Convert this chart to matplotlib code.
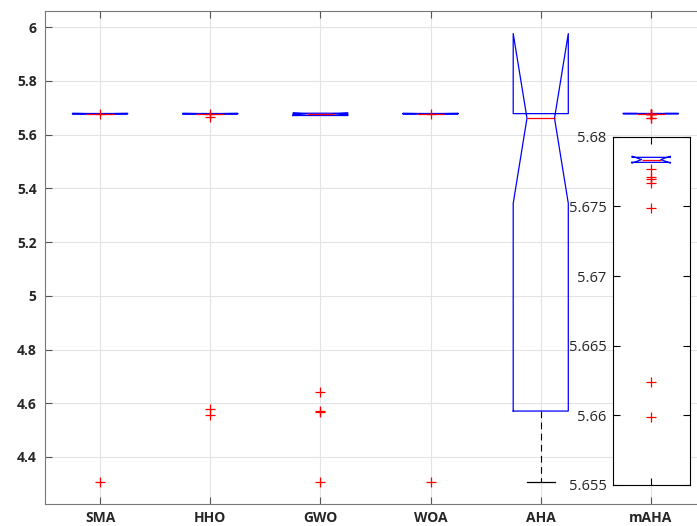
import matplotlib
matplotlib.use("Agg")
import matplotlib.pyplot as plt

# box statistics
names = ["SMA", "HHO", "GWO", "WOA", "AHA", "mAHA"]
q1 = [5.6777, 5.6777, 5.6710, 5.6777, 4.571, 5.67816]
med = [5.6781, 5.6781, 5.6772, 5.6781, 5.661, 5.67836]
q3 = [5.6785, 5.6785, 5.6795, 5.6785, 5.678, 5.67852]
ci_lo = [5.6772, 5.6772, 5.6740, 5.6772, 5.344, 5.67810]
ci_hi = [5.6790, 5.6790, 5.6800, 5.6790, 5.976, 5.67860]
whis_lo = [5.6777, 5.6777, 5.6710, 5.6777, 4.308, 5.67816]
whis_hi = [5.6785, 5.6785, 5.6795, 5.6785, 5.678, 5.67852]
outliers = [
    [5.6760, 4.308],
    [5.6760, 5.6670, 4.577, 4.556],
    [4.641, 4.570, 4.566, 4.308],
    [5.6780, 4.308],
    [],
    [5.67768, 5.67713, 5.67696, 5.6767, 5.67486, 5.66237, 5.65988],
]
main_ticks = [4.4, 4.6, 4.8, 5.0, 5.2, 5.4, 5.6, 5.8, 6.0]
main_ticklabels = ["4.4", "4.6", "4.8", "5", "5.2", "5.4", "5.6", "5.8", "6"]
inset_ticks = [5.655, 5.66, 5.665, 5.67, 5.675, 5.68]
inset_ticklabels = ["5.655", "5.66", "5.665", "5.67", "5.675", "5.68"]

plt.rcParams["font.family"] = ["Open Sans", "DejaVu Sans"]
txt = "#262626"

stats = []
for i in range(len(names)):
    stats.append(dict(med=med[i], q1=q1[i], q3=q3[i], cilo=ci_lo[i], cihi=ci_hi[i],
                      whislo=whis_lo[i], whishi=whis_hi[i], fliers=outliers[i], label=names[i]))

style = dict(
    shownotches=True, widths=0.5,
    boxprops=dict(color="blue", linewidth=0.9),
    medianprops=dict(color="red", linewidth=0.9),
    whiskerprops=dict(color="black", linestyle=(0, (6, 4)), linewidth=0.8),
    capprops=dict(color="black", linewidth=0.9),
    flierprops=dict(marker="+", markeredgecolor="red", markersize=7, markeredgewidth=0.9, linestyle="none"),
)


def hide_empty_caps(parts, st):
    # caps only where the whisker actually leaves the box
    for j, s in enumerate(st):
        lo_cap, hi_cap = parts["caps"][2 * j], parts["caps"][2 * j + 1]
        lo_w, hi_w = parts["whiskers"][2 * j], parts["whiskers"][2 * j + 1]
        if s["whislo"] >= s["q1"]:
            lo_cap.set_visible(False)
            lo_w.set_visible(False)
        if s["whishi"] <= s["q3"]:
            hi_cap.set_visible(False)
            hi_w.set_visible(False)


fig = plt.figure(figsize=(6.97, 5.26), dpi=100)
ax = fig.add_axes([45 / 697, 1 - 504 / 526, 661 / 697, 493 / 526])
parts = ax.bxp(stats, positions=range(1, 7), **style)
hide_empty_caps(parts, stats)
ax.set_xlim(0.5, 6.5)
ax.set_ylim(4.225, 6.06)
ax.set_yticks(main_ticks)
ax.set_yticklabels(main_ticklabels, fontweight="bold")
ax.set_xticks(range(1, 7))
ax.set_xticklabels(names, fontweight="bold")
ax.grid(True, color="#e3e3e3", linewidth=0.8)
ax.set_axisbelow(True)
ax.tick_params(direction="in", top=True, right=True, length=5, color="#555555", labelcolor=txt, labelsize=10)
ax.tick_params(axis="x", pad=5)
ax.tick_params(axis="y", pad=6)
for s in ax.spines.values():
    s.set_color("#777777")

# zoomed view of mAHA
ins = fig.add_axes([612.7 / 697, 1 - 485 / 526, 77 / 697, 348.3 / 526])
iparts = ins.bxp([stats[5]], positions=[1], **style)
hide_empty_caps(iparts, [stats[5]])
ins.set_xlim(0.5, 1.5)
ins.set_ylim(5.655, 5.68)
ins.set_yticks(inset_ticks)
ins.set_yticklabels(inset_ticklabels)
ins.set_xticks([1])
ins.set_xticklabels([])
ins.tick_params(direction="in", top=True, right=True, length=5, labelcolor=txt, labelsize=10.5, pad=4.5)
for s in ins.spines.values():
    s.set_color("black")

fig.savefig("out.png", dpi=100)
